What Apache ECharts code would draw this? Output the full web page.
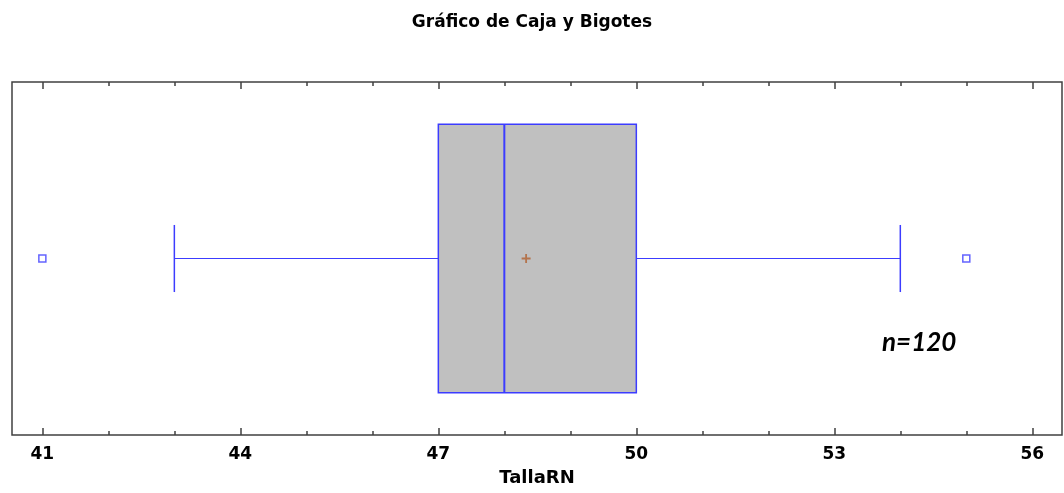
<!DOCTYPE html>
<html>
<head>
<meta charset="utf-8">
<script src="https://cdn.jsdelivr.net/npm/echarts@6/dist/echarts.min.js"></script>
<style>
html, body { margin: 0; padding: 0; background: #fff; }
#chart { width: 1064px; height: 493px; }
</style>
</head>
<body>
<div id="chart"></div>
<script>
// datos del grafico
const categories = ['TallaRN'];
const boxStats = [43, 47, 48, 50, 54]; // min, Q1, mediana, Q3, max
const meanValue = [48.33];
const outliers = [41, 55];
const majorTicks = [41, 44, 47, 50, 53, 56];
const minorTicks = [41, 42, 43, 44, 45, 46, 47, 48, 49, 50, 51, 52, 53, 54, 55, 56];
const sampleLabel = 'n=120';

const BLUE = '#3c3cff';
const FRAME = '#404040';
const X_MIN = 40.54;
const X_MAX = 56.45;
const FONT = 'DejaVu Sans';

function tickAxis(position, ticks, len, withLabels) {
  return {
    type: 'value',
    position: position,
    min: X_MIN,
    max: X_MAX,
    axisLine: { show: false },
    splitLine: { show: false },
    axisTick: {
      show: true,
      inside: true,
      length: len,
      customValues: ticks,
      lineStyle: { color: FRAME, width: 1.5 }
    },
    axisLabel: withLabels ? {
      customValues: majorTicks,
      margin: 11,
      color: '#000',
      fontFamily: FONT,
      fontWeight: 'bold',
      fontSize: 17
    } : { show: false }
  }
}

const chart = echarts.init(document.getElementById('chart'))
const xMain = tickAxis('bottom', majorTicks, 7, true)
xMain.name = categories[0]
xMain.nameLocation = 'middle'
xMain.nameGap = 34
xMain.nameTextStyle = { color: '#000', fontFamily: FONT, fontWeight: 'bold', fontSize: 18 }

chart.setOption({
  animation: false,
  title: {
    text: 'Gráfico de Caja y Bigotes',
    left: 'center',
    top: 9,
    textStyle: { color: '#000', fontFamily: FONT, fontWeight: 'bold', fontSize: 17 }
  },
  grid: {
    left: 12,
    right: 2,
    top: 82,
    bottom: 58,
    show: true,
    borderColor: FRAME,
    borderWidth: 1.5,
    backgroundColor: '#fff'
  },
  xAxis: [
    xMain,
    tickAxis('bottom', minorTicks, 4, false),
    tickAxis('top', majorTicks, 7, false),
    tickAxis('top', minorTicks, 4, false)
  ],
  yAxis: { type: 'category', data: categories, show: false },
  graphic: [{
    type: 'text',
    left: 882,
    top: 330,
    style: {
      text: sampleLabel,
      fill: '#000',
      font: 'italic bold 26px Lato'
    }
  }],
  series: [
    {
      type: 'custom',
      xAxisIndex: 0,
      data: [[0].concat(boxStats)],
      encode: { x: [1, 2, 3, 4, 5], y: 0 },
      renderItem: function (params, api) {
        const c = api.value(0)
        const band = api.size([0, 1])[1]
        const boxH = band * 0.38
        const capH = band * 0.095
        const p = i => api.coord([api.value(i), c])
        const pMin = p(1), pQ1 = p(2), pMed = p(3), pQ3 = p(4), pMax = p(5)
        const y = pMin[1]
        const line = (x1, y1, x2, y2, w) => ({
          type: 'line',
          shape: { x1: x1, y1: y1, x2: x2, y2: y2 },
          style: { stroke: BLUE, lineWidth: w }
        })
        return {
          type: 'group',
          children: [
            line(pMin[0], y, pQ1[0], y, 1),
            line(pQ3[0], y, pMax[0], y, 1),
            line(pMin[0], y - capH, pMin[0], y + capH, 1.5),
            line(pMax[0], y - capH, pMax[0], y + capH, 1.5),
            {
              type: 'rect',
              shape: { x: pQ1[0], y: y - boxH, width: pQ3[0] - pQ1[0], height: boxH * 2 },
              style: { fill: '#c0c0c0', stroke: BLUE, lineWidth: 1.5 }
            },
            line(pMed[0], y - boxH, pMed[0], y + boxH, 2)
          ]
        }
      }
    },
    {
      type: 'scatter',
      xAxisIndex: 0,
      data: outliers.map(v => [v, 0]),
      symbol: 'rect',
      symbolSize: 7,
      itemStyle: { color: '#fff', borderColor: BLUE, borderWidth: 1.5 }
    },
    {
      type: 'scatter',
      xAxisIndex: 0,
      data: meanValue.map(v => [v, 0]),
      symbol: 'path://M4,0h2v4h4v2h-4v4h-2v-4h-4v-2h4z',
      symbolSize: 9,
      itemStyle: { color: '#b06030' }
    }
  ]
})
</script>
</body>
</html>
